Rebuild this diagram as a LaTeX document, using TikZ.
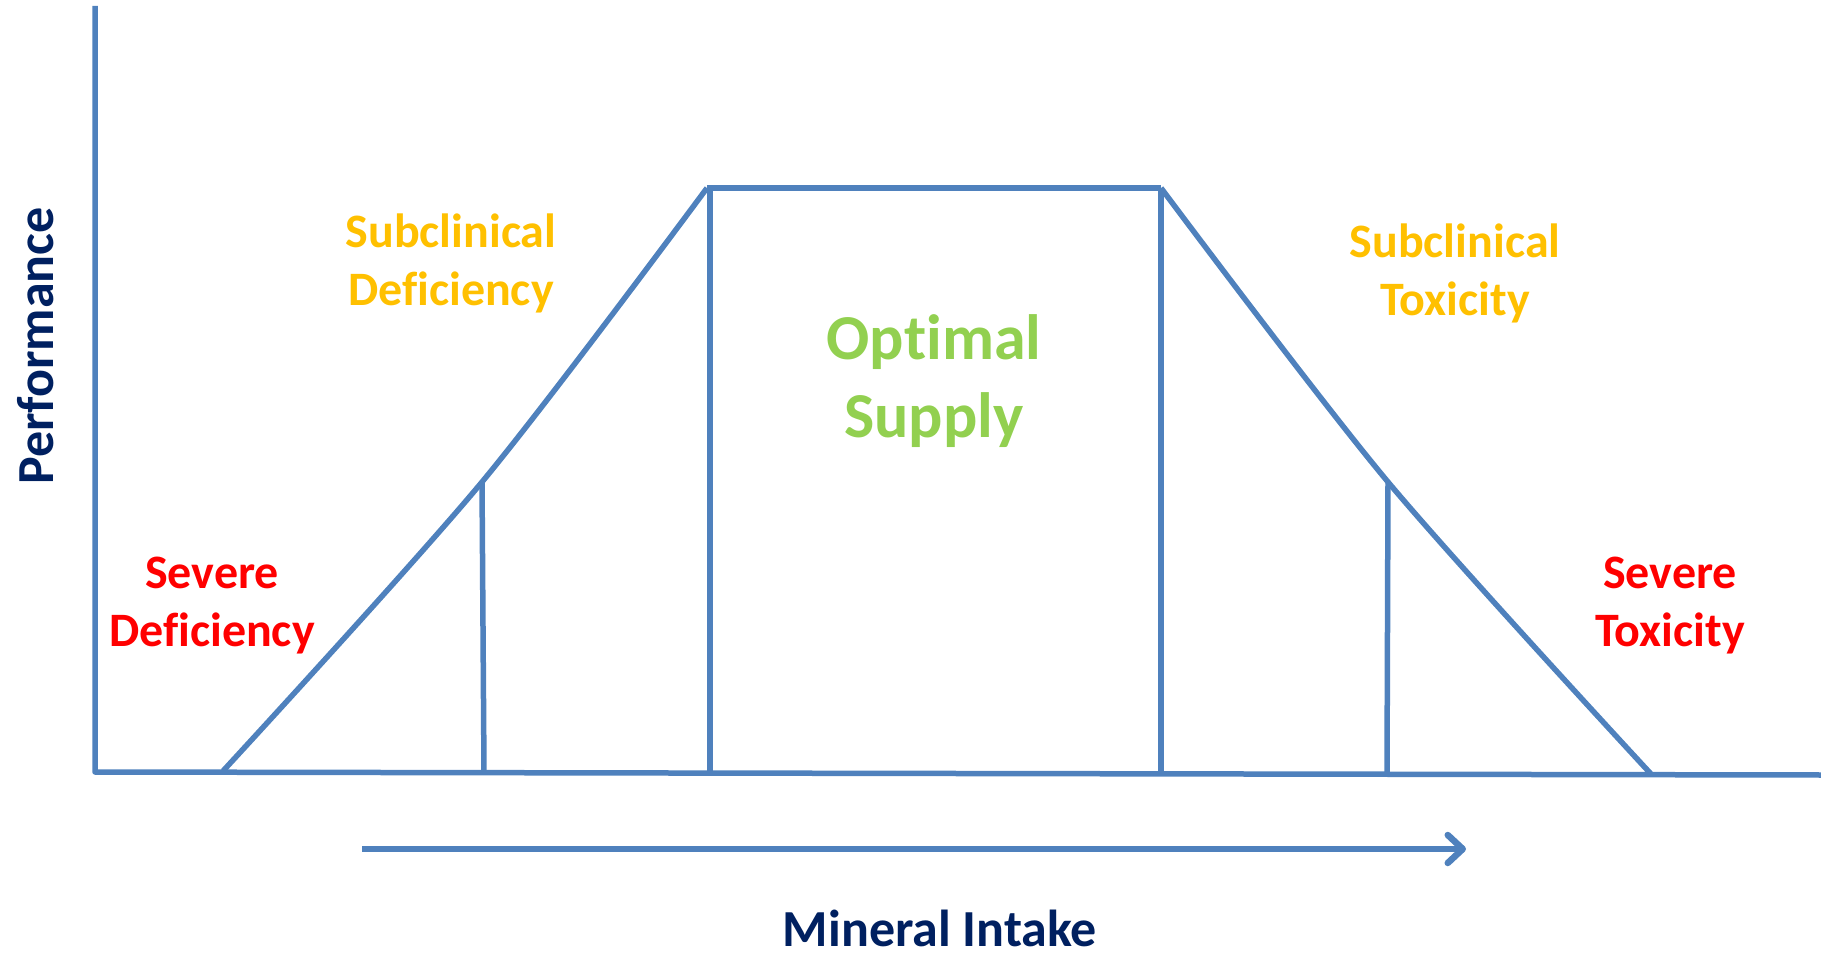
\documentclass[tikz,border=0pt]{standalone}
\usepackage{fontspec}
\setmainfont{Carlito}[Ligatures={NoCommon,NoRare}]
\usetikzlibrary{arrows.meta}
\definecolor{lineblue}{HTML}{4F81BD}
\definecolor{navy}{HTML}{002060}
\definecolor{sevred}{HTML}{FF0000}
\definecolor{subyellow}{HTML}{FFC000}
\definecolor{optgreen}{HTML}{92D050}
\begin{document}
\begin{tikzpicture}[x=1pt,y=-1pt,
  curve/.style={draw=lineblue,line width=5.5pt,line join=round},
  label/.style={font=\bfseries\fontsize{48}{58}\selectfont,align=center,inner sep=0pt},
  biglabel/.style={font=\bfseries\fontsize{64}{78}\selectfont,align=center,inner sep=0pt},
  axislabel/.style={font=\bfseries\fontsize{52}{58}\selectfont,text=navy,inner sep=0pt}]
\useasboundingbox (0,0) rectangle (1821,957);

% key points of the performance curve
\coordinate (ytop) at (95,6);
\coordinate (origin) at (95,772);
\coordinate (xend) at (1821,775);
\coordinate (ls) at (223,771);
\coordinate (lm) at (482,482);
\coordinate (lmb) at (484,772);
\coordinate (pl) at (707,188);
\coordinate (plb) at (710,773);
\coordinate (pr) at (1161,188);
\coordinate (prb) at (1161,774);
\coordinate (rm) at (1388,482);
\coordinate (rmb) at (1387,774);
\coordinate (re) at (1651,774);
\coordinate (ar1) at (362,849);
\coordinate (ar2) at (1466,849);

% axes
\draw[curve] (ytop) -- (origin) -- (xend);

% response curve
\draw[curve] plot[smooth,tension=0.5] coordinates {(ls) (lm) (pl)};
\draw[curve] (pl) -- (pr);
\draw[curve] plot[smooth,tension=0.5] coordinates {(pr) (rm) (re)};

% zone boundaries
\draw[curve] (lm) -- (lmb);
\draw[curve] (710,188) -- (plb);
\draw[curve] (pr) -- (prb);
\draw[curve] (rm) -- (rmb);

% intake direction arrow
\draw[curve,-{Straight Barb[length=15pt,width=28pt,round,line width=6.5pt]}] (ar1) -- (ar2);

% zone labels
\node[label,text=sevred] (sd) at (212,606) {Severe\\Deficiency};
\node[label,text=subyellow] (scd) at (451,263) {Subclinical\\Deficiency};
\node[biglabel,text=optgreen] (opt) at (934,381) {Optimal\\Supply};
\node[label,text=subyellow] (sct) at (1455,273) {Subclinical\\Toxicity};
\node[label,text=sevred] (st) at (1670,606) {Severe\\Toxicity};

% axis titles
\node[axislabel,rotate=90] (perf) at (36,346) {Performance};
\node[axislabel,anchor=base] (mi) at (940,946) {Mineral Intake};
\end{tikzpicture}
\end{document}
